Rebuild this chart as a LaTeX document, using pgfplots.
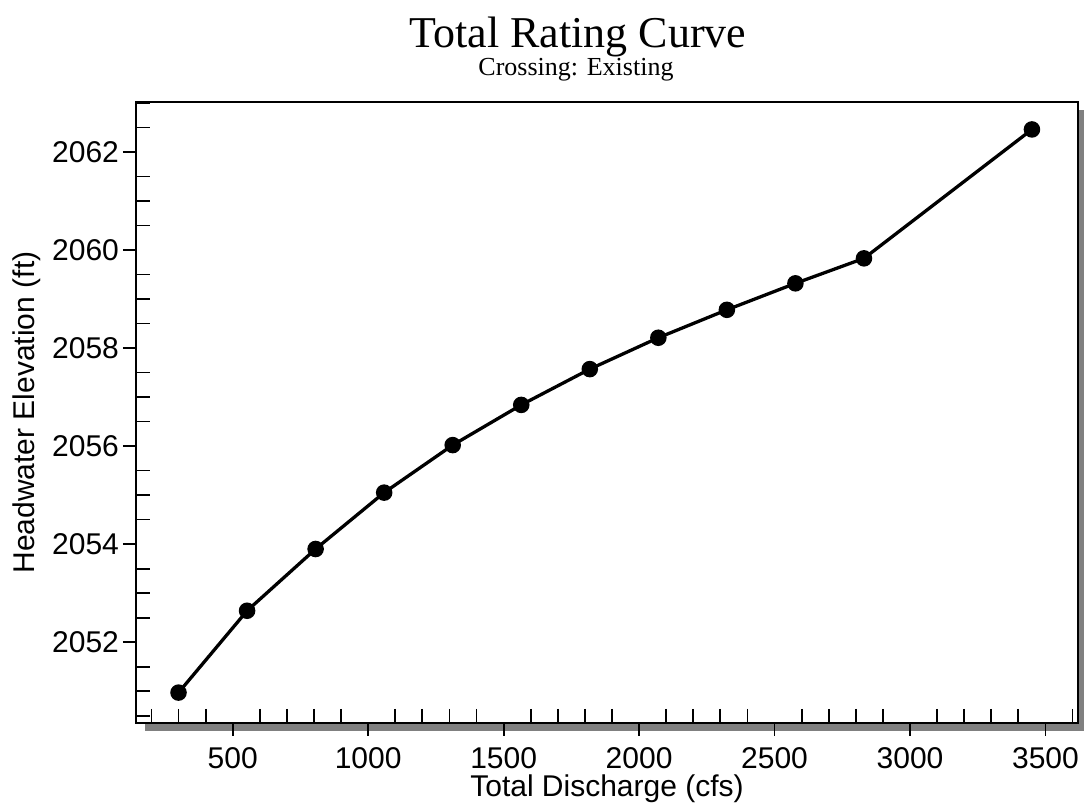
\documentclass[border=0pt]{standalone}
\usepackage{pgfplots}
\pgfplotsset{compat=1.18}
\usepackage{fontspec}
\setmainfont{Liberation Sans}
\newfontfamily\seriffont{Liberation Serif}

\begin{document}
\begin{tikzpicture}[x=1pt,y=1pt]
\path[use as bounding box] (-68,-43) rectangle (474,361.5);
% drop shadow of the frame
\fill[black!50] (4.5,-4) rectangle (474,0);
\fill[black!50] (471,-4) rectangle (474,306.5);
\begin{axis}[
  at={(0,0)}, anchor=south west,
  scale only axis, width=471pt, height=310.5pt,
  xmin=143, xmax=3620, ymin=2050.35, ymax=2063.02,
  xtick={500,1000,...,3500}, ytick={2052,2054,...,2062},
  minor xtick={200,300,400,600,700,800,900,1100,1200,1300,1400,1600,1700,1800,1900,2100,2200,2300,2400,2600,2700,2800,2900,3100,3200,3300,3400,3600},
  minor ytick={2050.5,2051,2051.5,2052.5,2053,2053.5,2054.5,2055,2055.5,2056.5,2057,2057.5,2058.5,2059,2059.5,2060.5,2061,2061.5,2062.5,2063},
  xtick pos=lower, ytick pos=left,
  tick align=outside,
  major tick length=6.5pt, minor tick length=-7pt,
  every tick/.style={black, line width=0.9pt},
  axis line style={line width=1pt},
  axis background/.style={fill=white},
  font=\fontsize{15}{18}\selectfont,
  /pgf/number format/assume math mode=true,
  /pgf/number format/set thousands separator={},
  yticklabel style={xshift=1.5pt},
  xticklabel style={yshift=-2pt},
  xlabel={Total Discharge (cfs)},
  ylabel={Headwater Elevation (ft)},
  every axis x label/.style={at={(axis description cs:0.5,0)}, anchor=base, yshift=-37pt},
  every axis y label/.style={at={(axis description cs:0,0.5)}, xshift=-54.5pt, rotate=90, anchor=center},
  clip=false,
]
\addplot[black, line width=1.65pt, mark=*, mark size=3.3pt, mark options={solid, fill=black}] coordinates {
(300,2050.97)
(553,2052.64)
(806,2053.90)
(1059,2055.05)
(1312,2056.02)
(1565,2056.84)
(1818,2057.57)
(2071,2058.21)
(2324,2058.78)
(2577,2059.32)
(2830,2059.83)
(3450,2062.46)
};
\end{axis}
\node[anchor=base, font=\seriffont\fontsize{22}{26}\selectfont] at (221,337.5) {Total Rating Curve};
\node[anchor=base, font=\seriffont\fontsize{13}{15}\selectfont] at (220,323.5) {Crossing: Existing};
\end{tikzpicture}
\end{document}
